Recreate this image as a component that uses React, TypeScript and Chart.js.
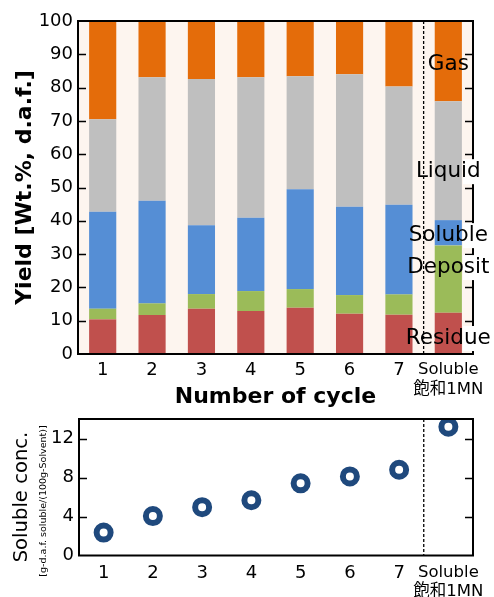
import React, { useEffect, useRef } from 'react';
import { Chart, registerables } from 'chart.js';

Chart.register(...registerables);

// ---------- data ----------
const categories: (string | string[])[] = ['1', '2', '3', '4', '5', '6', '7', ['Soluble', '飽和1MN']];
const residue = [10.4, 11.7, 13.6, 12.9, 13.9, 12.1, 11.8, 12.4];
const deposit = [3.2, 3.5, 4.4, 6.0, 5.6, 5.6, 6.1, 20.2];
const soluble = [29.1, 30.8, 20.7, 22.0, 30.0, 26.5, 26.9, 7.6];
const liquid = [27.8, 37.1, 43.9, 42.2, 33.9, 39.8, 35.5, 35.7];
const gas = [29.5, 16.9, 17.4, 16.9, 16.6, 16.0, 19.7, 24.1];
const solubleConc = [2.35, 4.04, 4.96, 5.67, 7.4, 8.11, 8.79, 13.2];

const seriesNames = ['Residue', 'Deposit', 'Soluble', 'Liquid', 'Gas'];
const seriesColors = ['#c0504d', '#9bbb59', '#558ed5', '#bfbfbf', '#e46c0a'];
// value (on the yield axis) where each annotation label sits
const sideLabels = ['Gas', 'Liquid', 'Soluble', 'Deposit', 'Residue'];
const sideLabelValues = [86.9, 54.9, 35.7, 26.1, 4.8];

const yieldMax = 100;
const yieldStep = 10;
const concMax = 14;
const concStep = 2;
const concLabelEvery = 4;

const FONT = "'DejaVu Sans', 'Noto Sans CJK JP', sans-serif";

function frameAndTicks(id: string, dashed: boolean) {
  return {
    id,
    afterDatasetsDraw(chart: any) {
      const { ctx, chartArea: a } = chart;
      const ys = chart.scales.y;
      const xs = chart.scales.x;
      ctx.save();
      ctx.strokeStyle = '#000';
      ctx.lineWidth = 1.5;
      ys.ticks.forEach((t: any) => {
        if (t.value <= ys.min || t.value >= ys.max) return;
        const py = Math.round(ys.getPixelForValue(t.value)) + 0.5;
        ctx.beginPath();
        ctx.moveTo(a.left, py);
        ctx.lineTo(a.left + 8, py);
        ctx.moveTo(a.right, py);
        ctx.lineTo(a.right - 8, py);
        ctx.stroke();
      });
      if (dashed) {
        const dx = (xs.getPixelForValue(6) + xs.getPixelForValue(7)) / 2;
        ctx.setLineDash([3, 2]);
        ctx.lineWidth = 1.3;
        ctx.beginPath();
        ctx.moveTo(dx, a.top);
        ctx.lineTo(dx, a.bottom);
        ctx.stroke();
        ctx.setLineDash([]);
      }
      ctx.lineWidth = 2;
      ctx.strokeRect(a.left, a.top, a.right - a.left, a.bottom - a.top);
      ctx.restore();
    },
  };
}

const bgPlugin = {
  id: 'plotBg',
  beforeDatasetsDraw(chart: any) {
    const { ctx, chartArea: a } = chart;
    ctx.save();
    ctx.fillStyle = '#fdf5ef';
    ctx.fillRect(a.left, a.top, a.right - a.left, a.bottom - a.top);
    ctx.restore();
  },
};

const sideLabelPlugin = {
  id: 'sideLabels',
  afterDraw(chart: any) {
    const { ctx, chartArea: a } = chart;
    const xs = chart.scales.x;
    const ys = chart.scales.y;
    const cx = xs.getPixelForValue(7);
    ctx.save();
    ctx.font = `21.5px ${FONT}`;
    ctx.textAlign = 'center';
    ctx.textBaseline = 'middle';
    sideLabels.forEach((txt, i) => {
      const py = ys.getPixelForValue(sideLabelValues[i]);
      if (i > 0) {
        ctx.fillStyle = '#ffffff';
        ctx.fillRect(a.right - 10, py - 12, 18, 25);
      }
      ctx.fillStyle = '#000';
      ctx.fillText(txt, cx, py);
    });
    ctx.restore();
  },
};

const concTitlePlugin = {
  id: 'concTitles',
  afterDraw(chart: any) {
    const { ctx } = chart;
    ctx.save();
    ctx.fillStyle = '#000';
    ctx.textAlign = 'center';
    ctx.textBaseline = 'middle';
    ctx.translate(22, 97);
    ctx.rotate(-Math.PI / 2);
    ctx.font = `19.6px ${FONT}`;
    ctx.fillText('Soluble conc.', 0, 0);
    ctx.restore();
    ctx.save();
    ctx.fillStyle = '#000';
    ctx.textAlign = 'center';
    ctx.textBaseline = 'middle';
    ctx.translate(44, 101);
    ctx.rotate(-Math.PI / 2);
    ctx.font = `9.5px ${FONT}`;
    ctx.fillText('[g-d.a.f. soluble/(100g-Solvent)]', 0, 0);
    ctx.restore();
  },
};

export default function App() {
  const topRef = useRef<HTMLCanvasElement | null>(null);
  const botRef = useRef<HTMLCanvasElement | null>(null);

  useEffect(() => {
    const tickFont = (c: any) =>
      c.index === 7 ? { family: FONT, size: 16.5, lineHeight: 1.2 } : { family: FONT, size: 18 };

    const top = new Chart(topRef.current as HTMLCanvasElement, {
      type: 'bar',
      data: {
        labels: categories as any,
        datasets: [residue, deposit, soluble, liquid, gas].map((d, i) => ({
          label: seriesNames[i],
          data: d,
          backgroundColor: seriesColors[i],
          borderWidth: 0,
          barPercentage: 0.55,
          categoryPercentage: 1,
        })),
      },
      options: {
        responsive: false,
        animation: false,
        devicePixelRatio: 1,
        layout: { padding: { top: 21, right: 21, left: 0, bottom: 0 } },
        plugins: { legend: { display: false }, tooltip: { enabled: false } },
        scales: {
          x: {
            stacked: true,
            grid: { display: false, drawTicks: false },
            border: { display: false },
            ticks: { color: '#000', padding: 6, maxRotation: 0, autoSkip: false, font: tickFont as any },
            title: {
              display: true,
              text: 'Number of cycle',
              color: '#000',
              font: { family: FONT, size: 22, weight: 'bold' },
              padding: { top: 0, bottom: 2 },
            },
            afterFit: (s: any) => {
              s.height = 58;
            },
          },
          y: {
            stacked: true,
            min: 0,
            max: yieldMax,
            grid: { display: false, drawTicks: false },
            border: { display: false },
            ticks: { stepSize: yieldStep, color: '#000', padding: 5, font: { family: FONT, size: 18 } },
            title: {
              display: true,
              text: 'Yield [Wt.%, d.a.f.]',
              color: '#000',
              font: { family: FONT, size: 22, weight: 'bold' },
              padding: { top: 12, bottom: 0 },
            },
            afterFit: (s: any) => {
              s.width = 78;
            },
          },
        },
      },
      plugins: [bgPlugin, frameAndTicks('frameTop', true), sideLabelPlugin],
    });

    const bot = new Chart(botRef.current as HTMLCanvasElement, {
      type: 'line',
      data: {
        labels: categories as any,
        datasets: [
          {
            label: 'Soluble conc.',
            data: solubleConc,
            showLine: false,
            pointRadius: 7,
            pointBorderWidth: 6,
            pointBackgroundColor: '#ffffff',
            pointBorderColor: '#1f497d',
          },
        ],
      },
      options: {
        responsive: false,
        animation: false,
        devicePixelRatio: 1,
        layout: { padding: { top: 19, right: 21, left: 0, bottom: 0 } },
        plugins: { legend: { display: false }, tooltip: { enabled: false } },
        scales: {
          x: {
            type: 'category',
            offset: true,
            grid: { display: false, drawTicks: false },
            border: { display: false },
            ticks: { color: '#000', padding: 7, maxRotation: 0, autoSkip: false, font: tickFont as any },
            afterFit: (s: any) => {
              s.height = 41.5;
            },
          },
          y: {
            min: 0,
            max: concMax,
            grid: { display: false, drawTicks: false },
            border: { display: false },
            ticks: {
              stepSize: concStep,
              color: '#000',
              padding: 5,
              font: { family: FONT, size: 18 },
              callback: (v: any) => (Number(v) % concLabelEvery === 0 && Number(v) < concMax ? String(v) : ''),
            },
            afterFit: (s: any) => {
              s.width = 79;
            },
          },
        },
      },
      plugins: [frameAndTicks('frameBot', true), concTitlePlugin],
    });

    return () => {
      top.destroy();
      bot.destroy();
    };
  }, []);

  return (
    <div style={{ position: 'fixed', left: 0, top: 0, width: 494, height: 597, background: '#fff' }}>
      <canvas
        ref={topRef}
        width={494}
        height={412}
        style={{ position: 'absolute', left: 0, top: 0, width: 494, height: 412 }}
      />
      <canvas
        ref={botRef}
        width={494}
        height={197}
        style={{ position: 'absolute', left: 0, top: 400, width: 494, height: 197 }}
      />
    </div>
  );
}
